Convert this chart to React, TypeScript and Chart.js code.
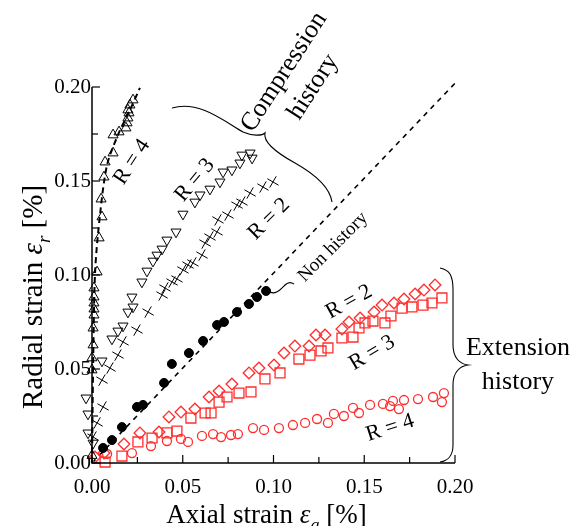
import React, { useEffect, useRef } from "react";
import { Chart, registerables } from "chart.js";
Chart.register(...registerables);

const SERIF = "'Liberation Serif', 'Times New Roman', serif";
const RED = "#ff2d2d";

// Axis ticks (every 0.025, labelled every 0.05)
const axisTicks = [0, 0.025, 0.05, 0.075, 0.1, 0.125, 0.15, 0.175, 0.2];
const tickLabels = ["0.00", "", "0.05", "", "0.10", "", "0.15", "", "0.20"];

// Compression history, R = 4 (open up-triangles)
const compR4X = [0.0, 0.0, 0.0, 0.0006, 0.0006, 0.0011, 0.0011, 0.0011, 0.0011, 0.0011, 0.0028, 0.0039, 0.0055, 0.005, 0.0066, 0.0072, 0.0116, 0.0116, 0.0149, 0.0187, 0.0193, 0.0198, 0.0204, 0.0198, 0.0209, 0.0226];
const compR4Y = [0.004, 0.0495, 0.0559, 0.0628, 0.0718, 0.0787, 0.0819, 0.0851, 0.0883, 0.0931, 0.1016, 0.1197, 0.1309, 0.1404, 0.1521, 0.1601, 0.1649, 0.1745, 0.1761, 0.1782, 0.1809, 0.1835, 0.1862, 0.1878, 0.1904, 0.1931];
// dashed trend through R = 4 compression
const compR4TrendX = [0, 0.0006, 0.0017, 0.0044, 0.0083, 0.0143, 0.0209, 0.0264];
const compR4TrendY = [0, 0.0495, 0.1016, 0.1319, 0.1585, 0.1745, 0.1878, 0.1995];

// Compression history, R = 3 (open down-triangles)
const compR3X = [0.0006, -0.0022, -0.0022, -0.0033, 0.0055, 0.011, 0.0143, 0.0171, 0.0198, 0.0226, 0.022, 0.0275, 0.0303, 0.0336, 0.0358, 0.0386, 0.0413, 0.0463, 0.0501, 0.0567, 0.0595, 0.065, 0.0705, 0.0722, 0.0771, 0.0815, 0.0826, 0.0871, 0.0882];
const compR3Y = [0.0106, 0.016, 0.0261, 0.0346, 0.0543, 0.066, 0.0702, 0.0729, 0.0803, 0.083, 0.0883, 0.0963, 0.1021, 0.1074, 0.1106, 0.1138, 0.1186, 0.1229, 0.1324, 0.1388, 0.1426, 0.1457, 0.1495, 0.1548, 0.1559, 0.1596, 0.1638, 0.1649, 0.1622];

// Compression history, R = 2 (crosses)
const compR2X = [0.0006, 0.0028, 0.0061, 0.0055, 0.0099, 0.0143, 0.0171, 0.0248, 0.0309, 0.0386, 0.0402, 0.0441, 0.0468, 0.0501, 0.0529, 0.0556, 0.0606, 0.0623, 0.065, 0.0689, 0.0694, 0.0749, 0.0799, 0.0826, 0.0871, 0.0942, 0.0997];
const compR2Y = [0.0138, 0.0213, 0.0298, 0.0441, 0.0505, 0.0574, 0.0644, 0.0707, 0.0803, 0.0894, 0.0931, 0.0963, 0.0979, 0.1027, 0.1053, 0.1064, 0.1106, 0.117, 0.1202, 0.1229, 0.1293, 0.1319, 0.1372, 0.1388, 0.1436, 0.1468, 0.1495];

// Non history (filled circles) and its dashed 1:1 line
const nonHistX = [0.0061, 0.011, 0.0165, 0.0248, 0.0281, 0.0397, 0.044, 0.0534, 0.0612, 0.0689, 0.0727, 0.0799, 0.0865, 0.0909, 0.0959];
const nonHistY = [0.008, 0.0122, 0.0191, 0.0298, 0.0309, 0.0426, 0.0527, 0.0585, 0.0649, 0.0734, 0.075, 0.0803, 0.0846, 0.0883, 0.0915];
const nonHistTrendX = [0, 0.2];
const nonHistTrendY = [0, 0.202];

// Extension history, R = 2 (red diamonds)
const extR2X = [0.0017, 0.0066, 0.0176, 0.0264, 0.0369, 0.0424, 0.049, 0.0567, 0.0645, 0.07, 0.0771, 0.0865, 0.092, 0.1003, 0.1058, 0.1118, 0.1196, 0.1234, 0.1284, 0.1377, 0.1416, 0.1477, 0.1554, 0.1598, 0.1664, 0.1719, 0.178, 0.1829, 0.189];
const extR2Y = [0.0032, 0.0053, 0.0101, 0.016, 0.0165, 0.0245, 0.0271, 0.0287, 0.0351, 0.0383, 0.042, 0.0479, 0.0505, 0.0521, 0.0585, 0.0622, 0.0622, 0.0681, 0.0681, 0.0713, 0.075, 0.0771, 0.0803, 0.084, 0.0851, 0.0872, 0.0899, 0.092, 0.0947];

// Extension history, R = 3 (red squares)
const extR3X = [0.0072, 0.0165, 0.0253, 0.0331, 0.0413, 0.0468, 0.0545, 0.0623, 0.0656, 0.07, 0.0744, 0.081, 0.0876, 0.0953, 0.1036, 0.114, 0.1201, 0.1262, 0.13, 0.1377, 0.1438, 0.1471, 0.1504, 0.1548, 0.1614, 0.1647, 0.1708, 0.1763, 0.1824, 0.1873, 0.1928];
const extR3Y = [0.0005, 0.0037, 0.0112, 0.0133, 0.016, 0.017, 0.0239, 0.0266, 0.0266, 0.0324, 0.0351, 0.0372, 0.0378, 0.0447, 0.0479, 0.0553, 0.0574, 0.0596, 0.0612, 0.0665, 0.067, 0.0718, 0.0745, 0.0755, 0.0745, 0.0782, 0.0824, 0.083, 0.084, 0.0851, 0.0878];

// Extension history, R = 4 (red open circles)
const extR4X = [0.0083, 0.022, 0.0325, 0.0413, 0.049, 0.0529, 0.0606, 0.0667, 0.0711, 0.0766, 0.0804, 0.0887, 0.0948, 0.103, 0.1107, 0.1174, 0.124, 0.13, 0.1333, 0.1388, 0.1438, 0.1471, 0.1532, 0.1603, 0.1642, 0.1658, 0.1691, 0.1719, 0.1796, 0.1879, 0.1928, 0.1939];
const extR4Y = [0.0048, 0.0053, 0.009, 0.0117, 0.0128, 0.0112, 0.0144, 0.0154, 0.0138, 0.0149, 0.0154, 0.0186, 0.0176, 0.0186, 0.0202, 0.0213, 0.0234, 0.0213, 0.0261, 0.025, 0.0293, 0.0266, 0.0309, 0.0314, 0.0303, 0.033, 0.0287, 0.0335, 0.034, 0.0351, 0.0324, 0.0372];

// Annotation labels
const labelTexts = ["R = 4", "R = 3", "R = 2", "Non history", "Compression", "history", "R = 2", "R = 3", "R = 4", "Extension", "history"];
const labelX = [0.022, 0.0567, 0.0975, 0.1328, 0.1058, 0.1218, 0.1416, 0.1543, 0.1642, 0.2347, 0.2347];
const labelY = [0.1601, 0.1505, 0.1298, 0.1149, 0.208, 0.2, 0.0856, 0.0585, 0.0186, 0.0612, 0.0431];
const labelAngle = [-57, -50, -45, -45, -57, -57, -29, -31, -18, 0, 0];
const labelSize = [22, 22, 22, 19, 26, 26, 22, 22, 22, 26, 26];

// Brace / connector paths (data coordinates): first point is a move, 1-point groups are lines, 3-point groups are cubic beziers
const compBrace = [
  [[0.04408, 0.18883]],
  [[0.0595, 0.19309], [0.07328, 0.18138], [0.0832, 0.17606]],
  [[0.08815, 0.17394], [0.09366, 0.17394], [0.09532, 0.17553]],
  [[0.09421, 0.17074], [0.10083, 0.16543], [0.11185, 0.15957]],
  [[0.12452, 0.15266], [0.13113, 0.14628], [0.13223, 0.13883]],
];
const extBrace = [
  [[0.19174, 0.10372]],
  [[0.19725, 0.10266], [0.1989, 0.09947], [0.1989, 0.09202]],
  [[0.1989, 0.06277]],
  [[0.1989, 0.05585], [0.20275, 0.05266], [0.20716, 0.05213]],
  [[0.20275, 0.0516], [0.1989, 0.0484], [0.1989, 0.04149]],
  [[0.1989, 0.00957]],
  [[0.1989, 0.00426], [0.19614, 0.00106], [0.19174, 0.00053]],
];
const nonHistLink = [
  [[0.09697, 0.09149]],
  [[0.10083, 0.08883], [0.10358, 0.09202], [0.10634, 0.09468]],
  [[0.10799, 0.09628], [0.10964, 0.09628], [0.11129, 0.09521]],
];

const pts = (xs: number[], ys: number[]) => xs.map((x, i) => ({ x, y: ys[i] }));

const annotPlugin = {
  id: "annot",
  afterDraw(chart: any) {
    const { ctx, chartArea, scales } = chart;
    const xs = scales.x, ys = scales.y;
    const px = (x: number) => xs.getPixelForValue(x);
    const py = (y: number) => ys.getPixelForValue(y);
    ctx.save();
    ctx.strokeStyle = "#000";
    ctx.fillStyle = "#000";
    // axis lines
    ctx.lineWidth = 1.5;
    ctx.beginPath();
    ctx.moveTo(chartArea.left, chartArea.top);
    ctx.lineTo(chartArea.left, chartArea.bottom);
    ctx.lineTo(chartArea.right, chartArea.bottom);
    ctx.stroke();
    // inward ticks
    ctx.lineWidth = 1.2;
    xs.ticks.forEach((t: any, i: number) => {
      const len = tickLabels[i] ? 8 : 6;
      const x = px(t.value);
      ctx.beginPath();
      ctx.moveTo(x, chartArea.bottom);
      ctx.lineTo(x, chartArea.bottom - len);
      ctx.stroke();
    });
    ys.ticks.forEach((t: any, i: number) => {
      const len = tickLabels[i] ? 8 : 6;
      const y = py(t.value);
      ctx.beginPath();
      ctx.moveTo(chartArea.left, y);
      ctx.lineTo(chartArea.left + len, y);
      ctx.stroke();
    });
    // braces and connector
    const drawPath = (path: number[][][]) => {
      ctx.beginPath();
      path.forEach((seg, i) => {
        const p = seg.map(([a, b]) => [px(a), py(b)]);
        if (i === 0) ctx.moveTo(p[0][0], p[0][1]);
        else if (p.length === 1) ctx.lineTo(p[0][0], p[0][1]);
        else ctx.bezierCurveTo(p[0][0], p[0][1], p[1][0], p[1][1], p[2][0], p[2][1]);
      });
      ctx.stroke();
    };
    ctx.lineWidth = 1.1;
    drawPath(compBrace);
    drawPath(extBrace);
    drawPath(nonHistLink);
    // labels
    ctx.textAlign = "center";
    ctx.textBaseline = "middle";
    labelTexts.forEach((t, i) => {
      ctx.save();
      ctx.translate(px(labelX[i]), py(labelY[i]));
      ctx.rotate((labelAngle[i] * Math.PI) / 180);
      ctx.font = `${labelSize[i]}px ${SERIF}`;
      ctx.fillText(t, 0, 0);
      ctx.restore();
    });
    // axis titles with italic epsilon + subscript
    const drawTitle = (pre: string, sub: string, post: string, size: number) => {
      const f = `${size}px ${SERIF}`;
      const fi = `italic ${size}px ${SERIF}`;
      const fs = `italic ${Math.round(size * 0.65)}px ${SERIF}`;
      ctx.font = f; const w1 = ctx.measureText(pre).width; const w4 = ctx.measureText(post).width;
      ctx.font = fi; const w2 = ctx.measureText("ε").width;
      ctx.font = fs; const w3 = ctx.measureText(sub).width;
      const total = w1 + w2 + w3 + w4;
      let x = -total / 2;
      ctx.textAlign = "left";
      ctx.textBaseline = "alphabetic";
      ctx.font = f; ctx.fillText(pre, x, 0); x += w1;
      ctx.font = fi; ctx.fillText("ε", x, 0); x += w2;
      ctx.font = fs; ctx.fillText(sub, x, size * 0.28); x += w3;
      ctx.font = f; ctx.fillText(post, x, 0);
    };
    ctx.save();
    ctx.translate((chartArea.left + chartArea.right) / 2 - 7, chartArea.bottom + 60);
    drawTitle("Axial strain ", "a", " [%]", 27);
    ctx.restore();
    ctx.save();
    ctx.translate(chartArea.left - 50, (chartArea.top + chartArea.bottom) / 2 + 22);
    ctx.rotate(-Math.PI / 2);
    drawTitle("Radial strain ", "r", " [%]", 29);
    ctx.restore();
    ctx.restore();
  },
};

export default function App() {
  const ref = useRef<HTMLCanvasElement>(null);
  useEffect(() => {
    const canvas = ref.current!;
    const black = "#000";
    const tickFont = { family: SERIF, size: 21 };
    const labelCb = (_v: any, i: number) => tickLabels[i];
    const setTicks = (s: any) => { s.ticks = axisTicks.map((v) => ({ value: v })); };
    const clear = "rgba(0,0,0,0)";
    const chart = new Chart(canvas, {
      type: "scatter",
      data: {
        datasets: [
          { data: pts(nonHistX, nonHistY), pointStyle: "circle", pointRadius: 4.5, backgroundColor: black, borderColor: black, borderWidth: 1, clip: false },
          { data: pts(compR4X, compR4Y), pointStyle: "triangle", pointRadius: 5.8, backgroundColor: clear, borderColor: black, borderWidth: 1, clip: false },
          { data: pts(compR3X, compR3Y), pointStyle: "triangle", pointRotation: 180, pointRadius: 5.8, backgroundColor: clear, borderColor: black, borderWidth: 1, clip: false },
          { data: pts(compR2X, compR2Y), pointStyle: "cross", pointRotation: 30, pointRadius: 6.5, backgroundColor: clear, borderColor: black, borderWidth: 1, clip: false },
          { data: pts(extR2X, extR2Y), pointStyle: "rectRot", pointRadius: 5.8, backgroundColor: clear, borderColor: RED, borderWidth: 1.3, clip: false },
          { data: pts(extR3X, extR3Y), pointStyle: "rect", pointRadius: 7, backgroundColor: clear, borderColor: RED, borderWidth: 1.3, clip: false },
          { data: pts(extR4X, extR4Y), pointStyle: "circle", pointRadius: 4.5, backgroundColor: clear, borderColor: RED, borderWidth: 1.3, clip: false },
          { data: pts(nonHistTrendX, nonHistTrendY), showLine: true, pointRadius: 0, borderColor: black, borderWidth: 1.6, borderDash: [5, 5], clip: false },
          { data: pts(compR4TrendX, compR4TrendY), showLine: true, tension: 0.3, pointRadius: 0, borderColor: black, borderWidth: 2, borderDash: [6, 4], clip: false },
        ],
      },
      options: {
        animation: false,
        responsive: false,
        devicePixelRatio: 1,
        layout: { padding: { top: 87, right: 127, left: 0, bottom: 0 } },
        plugins: { legend: { display: false }, tooltip: { enabled: false } },
        scales: {
          x: {
            type: "linear", min: 0, max: 0.2,
            afterBuildTicks: setTicks,
            afterFit: (s: any) => { s.height = 63; },
            ticks: { callback: labelCb, font: tickFont, color: black, padding: 12, autoSkip: false, maxRotation: 0 },
            grid: { display: false, drawTicks: false },
            border: { display: false },
          },
          y: {
            type: "linear", min: 0, max: 0.2,
            afterBuildTicks: setTicks,
            afterFit: (s: any) => { s.width = 92; },
            ticks: { callback: labelCb, font: tickFont, color: black, padding: 1, autoSkip: false },
            grid: { display: false, drawTicks: false },
            border: { display: false },
          },
        },
      },
      plugins: [annotPlugin],
    } as any);
    return () => chart.destroy();
  }, []);
  return (
    <div style={{ position: "absolute", left: 0, top: 0, width: 582, height: 526, background: "#fff" }}>
      <canvas ref={ref} width={582} height={526} />
    </div>
  );
}
